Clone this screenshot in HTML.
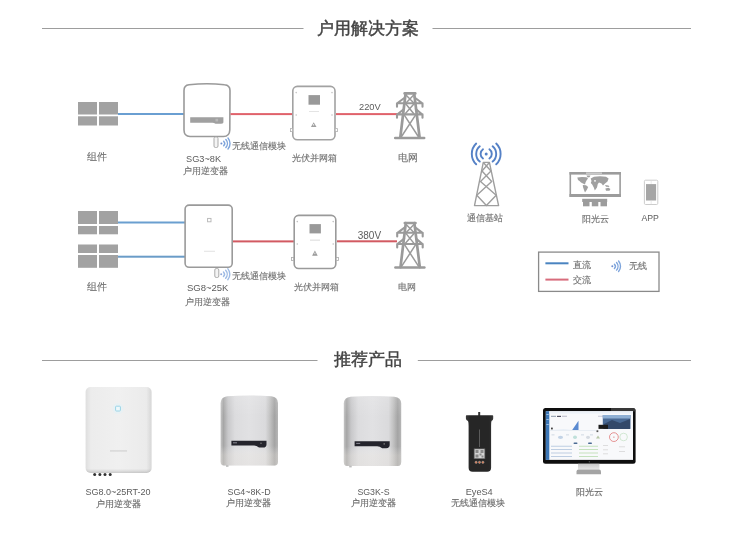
<!DOCTYPE html>
<html><head><meta charset="utf-8">
<style>
html,body{margin:0;padding:0;background:#fff;}
body{width:737px;height:536px;overflow:hidden;position:relative;font-family:"Liberation Sans",sans-serif;}
svg{position:absolute;left:0;top:0;filter:blur(0.35px);}
svg text{font-family:"Liberation Sans",sans-serif;}
</style></head><body>
<svg width="737" height="536" viewBox="0 0 737 536">
<defs>
  <g id="tower">
    <g fill="none" stroke="#9a9a9a" stroke-linecap="round" stroke-linejoin="round">
      <path d="M405.6 93.5 L400.3 137.5 M414.2 93.5 L419.6 137.5" stroke-width="2.7"/>
      <path d="M404.6 93.4 H415.3" stroke-width="2.6"/>
      <path d="M397 103.2 H422.5 M397 103.2 V106.8 M422.5 103.2 V106.8 M397.5 103 L405 97.5 M422 103 L414.6 97.5" stroke-width="2.1"/>
      <path d="M397 114.4 H422.5 M397 114.4 V117.8 M422.5 114.4 V117.8 M397.5 114.2 L404 109 M422 114.2 L415.8 109" stroke-width="2.1"/>
      <path d="M395.2 137.9 H424.2" stroke-width="2.5"/>
    </g>
    <g fill="none" stroke="#9a9a9a" stroke-width="1.5">
      <path d="M405.5 94.5 L413.8 103 M414.2 94.5 L406 103"/>
      <path d="M405.5 103.5 L414 114 M414.3 103.5 L405 114"/>
      <path d="M404 114.6 L418.6 137 M415.8 114.6 L401.2 137"/>
    </g>
  </g>
</defs>

<!-- Header 1 -->
<rect x="42" y="28" width="261.5" height="1" fill="#9d9d9d"/>
<rect x="432.5" y="28" width="258.5" height="1" fill="#9d9d9d"/>
<text x="368.3" y="34.2" text-anchor="middle" font-size="17.2" fill="#444" stroke="#444" stroke-width="0.45">户用解决方案</text>

<!-- Row 1 -->
<!-- panel -->
<g fill="#a2a2a2">
  <rect x="78" y="102" width="19" height="12.5"/>
  <rect x="99" y="102" width="19" height="12.5"/>
  <rect x="78" y="116.3" width="19" height="9.2"/>
  <rect x="99" y="116.3" width="19" height="9.2"/>
</g>
<rect x="118" y="113" width="66" height="2" fill="#6a9fd2"/>
<!-- inverter 1 -->
<path d="M189 84.8 Q207 82.6 224.5 84.8 Q230 85.3 230 90.5 L229.8 130 Q229.5 136.5 223.5 136.5 L190 136.5 Q184.1 136.5 184 130 L184 90.5 Q184 85.3 189 84.8 Z" fill="#fff" stroke="#9a9a9a" stroke-width="1.6"/>
<path d="M190.2 117.3 H223.4 V122.5 Q223 123.7 221 123.7 H215.5 Q214 122.8 212.5 122.8 H190.2 Z" fill="#a0a0a0"/><rect x="215.5" y="118.8" width="2.6" height="2.6" fill="#b8b8b8"/>
<rect x="214" y="137" width="4" height="10.5" rx="1.5" fill="#f4f4f4" stroke="#aaa" stroke-width="1"/>
<!-- red -->
<rect x="230.5" y="113.1" width="61.5" height="2" fill="#e0626b"/>
<!-- combiner 1 -->
<rect x="292.8" y="86.4" width="42.2" height="53.4" rx="4.5" fill="#fff" stroke="#a2a2a2" stroke-width="1.6"/>
<rect x="308.5" y="95.1" width="11.5" height="9.6" fill="#999"/>
<rect x="309" y="111.2" width="10" height="0.7" fill="#d8d8d8"/>
<path d="M313.7 122.2 L316.5 127 H310.9 Z" fill="#a0a0a0"/><rect x="313.3" y="124" width="0.8" height="1.6" fill="#fff"/>
<g fill="#c4c4c4"><circle cx="296.2" cy="92.6" r="0.8"/><circle cx="332" cy="92.6" r="0.8"/><circle cx="296.2" cy="115" r="0.8"/><circle cx="332" cy="115" r="0.8"/></g>
<g fill="#fff" stroke="#b0b0b0" stroke-width="0.8"><rect x="290.4" y="128.6" width="2.2" height="3"/><rect x="335.2" y="128.6" width="2.2" height="3"/></g>
<rect x="336" y="113.1" width="61.5" height="2" fill="#e0626b"/>
<use href="#tower"/>

<!-- Row 2 -->
<g fill="#a2a2a2">
  <rect x="78" y="211" width="19" height="13"/>
  <rect x="99" y="211" width="19" height="13"/>
  <rect x="78" y="226" width="19" height="8.3"/>
  <rect x="99" y="226" width="19" height="8.3"/>
  <rect x="78" y="244.5" width="19" height="8.5"/>
  <rect x="99" y="244.5" width="19" height="8.5"/>
  <rect x="78" y="255" width="19" height="12.8"/>
  <rect x="99" y="255" width="19" height="12.8"/>
</g>
<rect x="118" y="221.5" width="67" height="2" fill="#6a9fd0"/>
<rect x="118" y="255.7" width="67" height="2" fill="#6a9cc8"/>
<!-- inverter 2 -->
<rect x="185.1" y="205.1" width="47.1" height="62.2" rx="4" fill="#fff" stroke="#9a9a9a" stroke-width="1.6"/>
<rect x="207.6" y="218.4" width="3.4" height="3.4" fill="none" stroke="#b4b4b4" stroke-width="0.9"/>
<rect x="204" y="250.8" width="11" height="0.8" fill="#dadada"/>
<rect x="214.8" y="268.5" width="4" height="9" rx="1.5" fill="#f4f4f4" stroke="#aaa" stroke-width="1"/>
<rect x="233" y="240.4" width="61" height="2" fill="#d25a62"/>
<!-- combiner 2 -->
<rect x="294.2" y="215.4" width="41.6" height="53.1" rx="4.5" fill="#fff" stroke="#9a9a9a" stroke-width="1.6"/>
<rect x="309.5" y="224.1" width="11.4" height="9.3" fill="#999"/>
<rect x="310" y="239.7" width="10" height="0.8" fill="#cfcfcf"/>
<path d="M314.9 250.6 L317.7 255.8 H312.1 Z" fill="#999"/><rect x="314.5" y="252.6" width="0.8" height="1.6" fill="#fff"/>
<g fill="#c0c0c0"><circle cx="297.3" cy="221.6" r="0.8"/><circle cx="333.2" cy="221.6" r="0.8"/><circle cx="297.3" cy="244" r="0.8"/><circle cx="333.2" cy="244" r="0.8"/></g>
<g fill="#fff" stroke="#aaa" stroke-width="0.8"><rect x="291.4" y="257.5" width="2.2" height="3"/><rect x="336.2" y="257.5" width="2.2" height="3"/></g>
<rect x="337" y="240.3" width="60" height="2" fill="#d25a62"/>
<use href="#tower" transform="translate(0.2 129.6)"/>

<!-- wifi icons -->
<g id="wifi1" fill="none" stroke="#7ea5dc" stroke-width="1.4" stroke-linecap="round">
  <circle cx="221.4" cy="143.5" r="1" fill="#6f8fcf" stroke="none"/>
  <path d="M223.66 141.24 A3.2 3.2 0 0 1 223.66 145.76 M225.86 139.49 A6 6 0 0 1 225.86 147.51 M227.99 137.97 A8.6 8.6 0 0 1 227.99 149.03"/>
</g>
<use href="#wifi1" transform="translate(-0.2 130.7)" opacity="0.75"/>

<!-- station -->
<g fill="none" stroke="#5581c6" stroke-width="1.9" stroke-linecap="round">
  <circle cx="486.2" cy="153.9" r="1.5" fill="#5581c6" stroke="none"/>
  <path d="M482.99 149.31 A5.6 5.6 0 0 0 482.99 158.49 M489.41 149.31 A5.6 5.6 0 0 1 489.41 158.49 M479.77 146.24 A10 10 0 0 0 479.77 161.56 M492.63 146.24 A10 10 0 0 1 492.63 161.56 M476.20 143.54 A14.4 14.4 0 0 0 476.20 164.26 M496.20 143.54 A14.4 14.4 0 0 1 496.20 164.26"/>
</g>
<g fill="none" stroke="#9e9e9e" stroke-width="1.4" stroke-linejoin="round">
  <path d="M483.3 162.4 H489.4 L498.6 205.6 H474.5 Z"/>
  <path d="M483.3 162.5 L491 171 L480.5 181.5 L496.2 195.3 L486.4 205.6 L476.8 195.3 L491.7 181.5 L482 171 L489.4 162.5"/>
</g>

<!-- cloud monitor -->
<rect x="570.3" y="172.8" width="49.8" height="23.3" fill="none" stroke="#9c9c9c" stroke-width="1.6"/>
<rect x="569.5" y="172" width="51.3" height="2.6" fill="#9c9c9c"/>
<rect x="586" y="172.4" width="16" height="1.6" fill="#c8c8c8"/>
<rect x="569.5" y="194" width="51.3" height="3" fill="#9c9c9c"/>
<g fill="#a0a0a0">
  <path d="M577.3 177.5 L582 177 L586.5 177.2 L588 178.5 L586.5 180.5 L585.5 182.5 L585 184.5 L583.5 183.8 L581 182.5 L579.5 181 L578 180 Z"/>
  <path d="M586.5 175.5 L590.5 175.5 L589.5 177.3 L587.5 177.5 Z"/>
  <path d="M582.8 185 L586 185.2 L588.2 187 L587 189.5 L585 192.4 L584 190 L583 187 Z"/>
  <path d="M590.7 178.5 L594 176.8 L600 176.3 L606 176.8 L608.6 178.5 L607.5 181.5 L605 183.5 L603 185.5 L601.5 183.5 L599 182.5 L597.8 184 L597 187.5 L594.8 190.5 L593.8 187.5 L592.2 184.5 L590.8 183 L591.5 181 Z"/>
  <path d="M605 185 L608.5 185.5 L609.5 187 L606 186.8 Z"/>
  <path d="M605.4 188.5 L608.5 187.8 L610.4 189 L609.5 190.8 L606 190.8 Z"/>
</g>
<circle cx="595" cy="180.8" r="0.9" fill="#fff"/>
<rect x="582.2" y="198.8" width="25" height="3.2" fill="#9c9c9c"/>
<g fill="#9c9c9c"><rect x="583" y="202" width="6.5" height="4.3"/><rect x="591.8" y="202" width="6.5" height="4.3"/><rect x="600.5" y="202" width="6.5" height="4.3"/></g>

<!-- phone -->
<rect x="644.4" y="180.2" width="13.4" height="24.3" rx="1.2" fill="#fff" stroke="#c6c6c6" stroke-width="0.9"/>
<rect x="646" y="184.1" width="10.1" height="16.4" fill="#a6a6a6"/>
<rect x="650.8" y="180.5" width="0.6" height="3.4" fill="#ddd"/><rect x="650.8" y="200.7" width="0.6" height="3.5" fill="#ddd"/>

<!-- legend -->
<rect x="538.6" y="252.1" width="120.4" height="39.3" fill="#fff" stroke="#8a8a8a" stroke-width="1.3"/>
<rect x="545.4" y="262.3" width="23.1" height="2" fill="#4a84c0"/>
<rect x="545.4" y="278.6" width="23.1" height="2" fill="#d86c7c"/>
<g fill="none" stroke="#7ea5dc" stroke-width="1.4" stroke-linecap="round">
  <circle cx="612.3" cy="266.3" r="1" fill="#6f8fcf" stroke="none"/>
  <path d="M614.42 264.18 A3.0 3.0 0 0 1 614.42 268.42 M616.54 262.49 A5.7 5.7 0 0 1 616.54 270.11 M618.58 261.03 A8.2 8.2 0 0 1 618.58 271.57"/>
</g>

<text x="86.88" y="160.40" font-size="9.50" fill="#737373" stroke="#737373" stroke-width="0.15">组件</text>
<text x="231.84" y="148.72" font-size="8.50" fill="#737373" stroke="#737373" stroke-width="0.15">无线通信模块</text>
<text x="186.08" y="161.82" font-size="9.20" fill="#5c5c5c">SG3~8K</text>
<text x="183.12" y="174.40" font-size="8.50" fill="#737373" stroke="#737373" stroke-width="0.15">户用逆变器</text>
<text x="292.00" y="160.76" font-size="8.50" fill="#737373" stroke="#737373" stroke-width="0.15">光伏并网箱</text>
<text x="398.18" y="160.60" font-size="9.50" fill="#737373" stroke="#737373" stroke-width="0.15">电网</text>
<text x="359.04" y="110.12" font-size="9.30" fill="#5c5c5c">220V</text>
<text x="467.00" y="220.88" font-size="8.50" fill="#737373" stroke="#737373" stroke-width="0.15">通信基站</text>
<text x="581.52" y="221.68" font-size="8.50" fill="#737373" stroke="#737373" stroke-width="0.15">阳光云</text>
<text x="641.52" y="220.60" font-size="8.70" fill="#5c5c5c">APP</text>
<text x="86.82" y="289.98" font-size="9.50" fill="#737373" stroke="#737373" stroke-width="0.15">组件</text>
<text x="231.56" y="279.20" font-size="8.50" fill="#737373" stroke="#737373" stroke-width="0.15">无线通信模块</text>
<text x="186.96" y="291.48" font-size="9.50" fill="#5c5c5c">SG8~25K</text>
<text x="185.48" y="304.86" font-size="8.50" fill="#737373" stroke="#737373" stroke-width="0.15">户用逆变器</text>
<text x="293.54" y="290.00" font-size="8.50" fill="#737373" stroke="#737373" stroke-width="0.15">光伏并网箱</text>
<text x="398.24" y="289.80" font-size="8.50" fill="#737373" stroke="#737373" stroke-width="0.15">电网</text>
<text x="357.72" y="238.72" font-size="10.00" fill="#5c5c5c">380V</text>
<text x="573.08" y="268.18" font-size="8.50" fill="#737373" stroke="#737373" stroke-width="0.15">直流</text>
<text x="572.52" y="282.84" font-size="8.50" fill="#737373" stroke="#737373" stroke-width="0.15">交流</text>
<text x="628.66" y="269.36" font-size="8.50" fill="#737373" stroke="#737373" stroke-width="0.15">无线</text>

<!-- Header 2 -->
<rect x="42" y="360" width="275.5" height="1" fill="#9d9d9d"/>
<rect x="417.8" y="360" width="273.2" height="1" fill="#9d9d9d"/>
<text x="367.5" y="364.6" text-anchor="middle" font-size="17.2" fill="#444" stroke="#444" stroke-width="0.45">推荐产品</text>

<!-- Products -->
<defs>
  <linearGradient id="p1h" x1="0" y1="0" x2="1" y2="0">
    <stop offset="0" stop-color="#dedede"/><stop offset="0.08" stop-color="#ececec"/><stop offset="0.5" stop-color="#f0f0f0"/><stop offset="0.92" stop-color="#ebebeb"/><stop offset="1" stop-color="#d6d6d6"/>
  </linearGradient>
  <linearGradient id="p1v" x1="0" y1="0" x2="0" y2="1">
    <stop offset="0" stop-color="#000" stop-opacity="0"/><stop offset="0.95" stop-color="#000" stop-opacity="0"/><stop offset="0.975" stop-color="#000" stop-opacity="0.07"/><stop offset="1" stop-color="#000" stop-opacity="0.16"/>
  </linearGradient>
  <linearGradient id="silver" x1="0" y1="0" x2="1" y2="0">
    <stop offset="0" stop-color="#c4c4c4"/><stop offset="0.05" stop-color="#a6a6a6"/><stop offset="0.13" stop-color="#c8c8ca"/><stop offset="0.25" stop-color="#dcdcde"/><stop offset="0.5" stop-color="#e1e1e3"/><stop offset="0.78" stop-color="#dadadc"/><stop offset="0.86" stop-color="#c2c2c2"/><stop offset="0.94" stop-color="#a4a4a4"/><stop offset="1" stop-color="#b6b6b6"/>
  </linearGradient>
  <linearGradient id="silverv" x1="0" y1="0" x2="0" y2="1">
    <stop offset="0" stop-color="#fff" stop-opacity="0.15"/><stop offset="0.3" stop-color="#fff" stop-opacity="0"/><stop offset="0.72" stop-color="#fff" stop-opacity="0"/><stop offset="0.85" stop-color="#f2ede6" stop-opacity="0.3"/><stop offset="1" stop-color="#eee9e2" stop-opacity="0.3"/>
  </linearGradient>
  <linearGradient id="eyeg" x1="0" y1="0" x2="1" y2="0">
    <stop offset="0" stop-color="#3a3a3a"/><stop offset="0.15" stop-color="#262626"/><stop offset="0.85" stop-color="#262626"/><stop offset="1" stop-color="#3a3a3a"/>
  </linearGradient>
  <linearGradient id="standg" x1="0" y1="0" x2="0" y2="1">
    <stop offset="0" stop-color="#c8c8c8"/><stop offset="1" stop-color="#e6e6e6"/>
  </linearGradient>
</defs>
<!-- product 1 -->
<rect x="85.6" y="387" width="66" height="86" rx="5" fill="url(#p1h)"/>
<rect x="85.6" y="387" width="66" height="86" rx="5" fill="url(#p1v)"/>
<circle cx="118" cy="408.6" r="5.5" fill="#e2f2f7" opacity="0.6"/>
<rect x="115.6" y="406.2" width="4.8" height="4.8" rx="0.8" fill="#eef8fb" stroke="#9ad4e6" stroke-width="1"/>
<rect x="110" y="450.5" width="17" height="0.9" fill="#c8c8c8"/>
<g fill="#333"><circle cx="94.7" cy="474.4" r="1.5"/><circle cx="99.9" cy="474.4" r="1.5"/><circle cx="105" cy="474.4" r="1.5"/><circle cx="110.2" cy="474.4" r="1.5"/></g>

<!-- product 2 -->
<g id="prodS">
<path d="M220.6 403 Q220.8 396.8 227.5 396.2 Q249.3 394.6 271.1 396.2 Q277.8 396.8 278 403 V461.5 Q278 465.4 274.5 465.4 H224.1 Q220.6 465.4 220.6 461.5 Z" fill="url(#silver)"/>
<path d="M220.6 403 Q220.8 396.8 227.5 396.2 Q249.3 394.6 271.1 396.2 Q277.8 396.8 278 403 V461.5 Q278 465.4 274.5 465.4 H224.1 Q220.6 465.4 220.6 461.5 Z" fill="url(#silverv)"/>
<path d="M231.4 440.7 H266.5 V444.5 Q266.5 447.6 263 447.6 H259 Q256.5 445.6 254 445.6 H231.4 Z" fill="#24242c"/>
<rect x="233" y="442.3" width="4" height="1" fill="#8a8a95"/>
<circle cx="261" cy="443.3" r="0.8" fill="#777"/>
<rect x="226" y="465.2" width="2.5" height="1.6" fill="#bbb"/>
</g>
<use href="#prodS" transform="translate(123.2 0.6)"/>

<!-- EyeS4 -->
<rect x="478.2" y="412" width="2" height="4" fill="#333"/>
<path d="M466.5 415.2 H492.5 Q493.2 415.2 493.2 416 V418.5 Q493.2 420 491.5 421 Q491.1 422 491.1 426 V467.8 Q491.1 471.8 487.1 471.8 H472.6 Q468.6 471.8 468.6 467.8 V426 Q468.6 422 468 421 Q465.9 420 465.9 418.5 V416 Q465.9 415.2 466.5 415.2 Z" fill="url(#eyeg)"/>
<rect x="479.2" y="429.5" width="0.8" height="17.5" fill="#6a6a6a"/>
<rect x="473.8" y="448.4" width="11.4" height="10.6" fill="#606060"/>
<rect x="474.6" y="449.2" width="9.8" height="9" fill="#d4d4d4"/>
<g fill="#8a8a8a"><rect x="475.5" y="450" width="3" height="3"/><rect x="480.5" y="450" width="3" height="3"/><rect x="475.5" y="454.5" width="3" height="3"/><rect x="479.5" y="453.5" width="2" height="2"/><rect x="481.5" y="455.5" width="2" height="2"/></g>
<g fill="#e07040" stroke="#bbb" stroke-width="0.5"><circle cx="476.1" cy="462.3" r="1.1"/><circle cx="479.5" cy="462.3" r="1.1"/><circle cx="482.9" cy="462.3" r="1.1"/></g>

<!-- monitor -->
<rect x="543" y="408" width="92.6" height="55.8" rx="2.5" fill="#0e0e0e"/>
<path d="M611 408.1 H633 Q635.5 408.1 635.5 410.5 V411.4 H611 Z" fill="#555" opacity="0.6"/>
<rect x="545.8" y="411.2" width="87.2" height="48.7" fill="#f8f9fb"/>
<rect x="545.8" y="411.2" width="3.5" height="48.7" fill="#3d77b6"/>
<g fill="#9cc0e4"><rect x="546.4" y="414" width="2.3" height="1"/><rect x="546.4" y="419" width="2.3" height="1"/><rect x="546.4" y="424" width="2.3" height="1"/></g>
<rect x="549.3" y="411.2" width="83.7" height="2.4" fill="#edf2f8"/>
<rect x="551" y="415.8" width="5" height="1" fill="#8a9aaa"/><rect x="557" y="415.8" width="4" height="1.2" fill="#556"/><rect x="562" y="415.8" width="5" height="0.8" fill="#aab"/>
<rect x="598" y="415.8" width="8" height="0.8" fill="#bbc"/>
<rect x="602.8" y="415" width="27.7" height="13.9" fill="#4a6a94"/>
<rect x="602.8" y="415" width="27.7" height="3.5" fill="#8fb0d4"/>
<path d="M604 424 L612 420 L620 423 L630 419 V428.9 H604 Z" fill="#33496a"/>
<rect x="598.5" y="424.8" width="9.5" height="4.1" fill="#1c1c1c"/>
<path d="M572.2 429.9 L578.5 420.7 L578.5 429.9 Z" fill="#5a8ad0"/>
<path d="M552 429.9 Q565 429 572.2 429.9 Z" fill="#dbe6f3"/>
<rect x="551" y="427.6" width="1.8" height="1.8" fill="#444"/>
<rect x="550" y="430.3" width="46" height="0.6" fill="#dde5ee"/>
<rect x="596.5" y="430.3" width="1.8" height="1.8" fill="#555"/>
<g fill="#c6d2de"><rect x="551.5" y="434.5" width="3" height="0.8"/><rect x="566" y="434.5" width="3" height="0.8"/><rect x="581" y="434.5" width="3" height="0.8"/><rect x="590" y="434.5" width="3" height="0.8"/></g>
<ellipse cx="560.5" cy="437.3" rx="2.6" ry="1.6" fill="#c3d3e6"/>
<ellipse cx="575" cy="437.3" rx="2" ry="1.8" fill="#bfe0da"/>
<ellipse cx="588" cy="437.3" rx="2" ry="1.6" fill="#d6dbe2"/>
<path d="M596 438.5 L598 435.5 L600 438.5 Z" fill="#b8c8a8"/>
<rect x="573.5" y="442.4" width="4" height="1.6" rx="0.8" fill="#4a6a94"/>
<rect x="588" y="442.4" width="4" height="1.6" rx="0.8" fill="#4a6a94"/>
<circle cx="613.9" cy="437.1" r="4.4" fill="none" stroke="#e07878" stroke-width="0.8"/>
<circle cx="613.9" cy="437.1" r="0.7" fill="#e07878"/>
<circle cx="623.6" cy="437" r="3.8" fill="none" stroke="#b8dcb8" stroke-width="0.6"/>
<g fill="#b0c4dc"><rect x="551" y="445.8" width="21" height="0.8"/><rect x="551" y="449.2" width="21" height="0.8"/><rect x="551" y="452.6" width="21" height="0.8"/><rect x="551" y="456" width="21" height="0.8"/></g>
<g fill="#b8dcb0"><rect x="579" y="445.8" width="19" height="0.8"/><rect x="579" y="449.2" width="19" height="0.8"/><rect x="579" y="452.6" width="19" height="0.8"/><rect x="579" y="456" width="19" height="0.8"/></g>
<g fill="#d2d2d2"><rect x="603" y="445.3" width="5" height="0.7"/><rect x="619" y="446.5" width="6" height="0.7"/><rect x="603" y="449.5" width="5" height="0.7"/><rect x="619" y="451" width="6" height="0.7"/><rect x="603" y="453.5" width="5" height="0.7"/></g>
<circle cx="589.3" cy="461.8" r="0.6" fill="#777"/>
<rect x="578" y="463.8" width="21.4" height="5.6" fill="url(#standg)"/>
<path d="M578.5 469.4 H599 Q601 469.4 601 471.5 V474.2 H576.5 V471.5 Q576.5 469.4 578.5 469.4 Z" fill="#a4a4a4"/>

<text x="85.44" y="495.28" font-size="9.00" fill="#5c5c5c">SG8.0~25RT-20</text>
<text x="95.64" y="506.70" font-size="8.50" fill="#6e6e6e" stroke="#6e6e6e" stroke-width="0.15">户用逆变器</text>
<text x="227.48" y="495.30" font-size="8.90" fill="#5c5c5c">SG4~8K-D</text>
<text x="226.28" y="506.34" font-size="8.50" fill="#6e6e6e" stroke="#6e6e6e" stroke-width="0.15">户用逆变器</text>
<text x="357.40" y="494.72" font-size="8.80" fill="#5c5c5c">SG3K-S</text>
<text x="351.10" y="506.10" font-size="8.50" fill="#6e6e6e" stroke="#6e6e6e" stroke-width="0.15">户用逆变器</text>
<text x="465.66" y="494.50" font-size="9.20" fill="#5c5c5c">EyeS4</text>
<text x="451.26" y="506.10" font-size="8.50" fill="#6e6e6e" stroke="#6e6e6e" stroke-width="0.15">无线通信模块</text>
<text x="575.58" y="494.78" font-size="8.50" fill="#6e6e6e" stroke="#6e6e6e" stroke-width="0.15">阳光云</text>
</svg>
</body></html>
